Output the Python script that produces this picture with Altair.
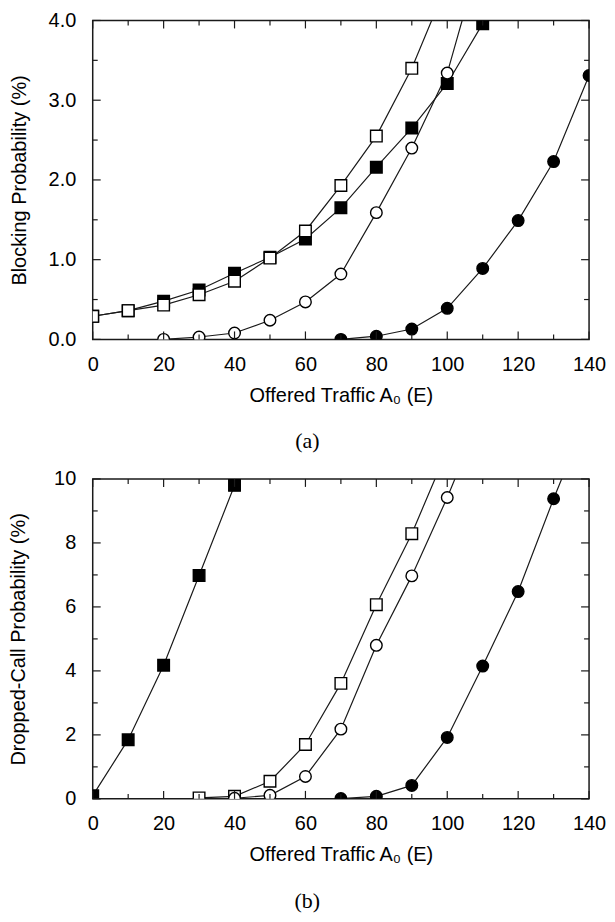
import altair as alt
import pandas as pd

# ---------------- data ----------------
# Panel (a): Blocking probability (%)
a_sq_open_x = [0, 10, 20, 30, 40, 50, 60, 70, 80, 90, 100]
a_sq_open_y = [0.29, 0.36, 0.43, 0.56, 0.73, 1.02, 1.36, 1.93, 2.55, 3.40, 4.47]
a_sq_fill_x = [0, 10, 20, 30, 40, 50, 60, 70, 80, 90, 100, 110]
a_sq_fill_y = [0.29, 0.36, 0.48, 0.62, 0.83, 1.03, 1.26, 1.65, 2.16, 2.65, 3.21, 3.96]
a_ci_open_x = [20, 30, 40, 50, 60, 70, 80, 90, 100, 110]
a_ci_open_y = [0.00, 0.03, 0.08, 0.24, 0.47, 0.82, 1.59, 2.40, 3.34, 4.91]
a_ci_fill_x = [70, 80, 90, 100, 110, 120, 130, 140]
a_ci_fill_y = [0.00, 0.04, 0.13, 0.39, 0.89, 1.49, 2.23, 3.31]

# Panel (b): Dropped-call probability (%)
b_sq_fill_x = [0, 10, 20, 30, 40]
b_sq_fill_y = [0.10, 1.85, 4.18, 6.98, 9.80]
b_sq_open_x = [30, 40, 50, 60, 70, 80, 90, 100]
b_sq_open_y = [0.03, 0.08, 0.55, 1.70, 3.61, 6.07, 8.29, 10.9]
b_ci_open_x = [40, 50, 60, 70, 80, 90, 100, 110]
b_ci_open_y = [0.02, 0.11, 0.70, 2.18, 4.80, 6.97, 9.42, 12.1]
b_ci_fill_x = [70, 80, 90, 100, 110, 120, 130, 140]
b_ci_fill_y = [0.01, 0.08, 0.42, 1.92, 4.15, 6.48, 9.38, 12.1]

series_names = ["sq_fill", "sq_open", "ci_open", "ci_fill"]
series_shapes = ["square", "square", "circle", "circle"]
series_fills = ["black", "white", "white", "black"]
series_sizes = [135, 135, 115, 115]

x_major = [0, 20, 40, 60, 80, 100, 120, 140]
x_minor = [10, 30, 50, 70, 90, 110, 130]
a_y_major = [0.0, 1.0, 2.0, 3.0, 4.0]
a_y_minor = [0.5, 1.5, 2.5, 3.5]
b_y_major = [0, 2, 4, 6, 8, 10]
b_y_minor = [1, 3, 5, 7, 9]

W = 498
INK = "#1a1a1a"
FONT = "Liberation Sans"


def long_df(pairs):
    rows = []
    for name, xs, ys in pairs:
        for i, (xv, yv) in enumerate(zip(xs, ys)):
            rows.append({"x": xv, "y": yv, "series": name, "i": i})
    return pd.DataFrame(rows)


def panel(df, H, ydom, ymaj, ymin, yfmt, ytitle, label, title_pad):
    xs = alt.Scale(domain=[0, 140], nice=False, zero=False)
    ys = alt.Scale(domain=ydom, nice=False, zero=False)
    xaxis = alt.Axis(values=x_major, ticks=False, domain=False, grid=False, labelFlush=False,
                     labelPadding=15, title="Offered Traffic A₀ (E)", titlePadding=11)
    yaxis = alt.Axis(values=ymaj, ticks=False, domain=False, grid=False, format=yfmt,
                     labelFlush=False, labelPadding=17, title=ytitle, titlePadding=title_pad)

    def X():
        return alt.X("x:Q", scale=xs, axis=xaxis)

    def Y():
        return alt.Y("y:Q", scale=ys, axis=yaxis)

    lines = alt.Chart(df).mark_line(clip=True, color=INK, strokeWidth=1.2).encode(
        x=X(), y=Y(), detail="series:N", order="x:Q")
    points = alt.Chart(df).transform_calculate(
        sort="datum.series == 'sq_fill' ? 0 : 1"
    ).mark_point(
        clip=True, filled=True, stroke="black", strokeWidth=1.4, opacity=1).encode(
        x=X(), y=Y(),
        shape=alt.Shape("series:N", scale=alt.Scale(domain=series_names, range=series_shapes), legend=None),
        color=alt.Color("series:N", scale=alt.Scale(domain=series_names, range=series_fills), legend=None),
        size=alt.Size("series:N", scale=alt.Scale(domain=series_names, range=series_sizes), legend=None),
        order=alt.Order("sort:Q"),
    )

    layers = [lines, points]
    for vals, ln in ((x_major, 8), (x_minor, 5)):
        tdf = pd.DataFrame({"x": vals})
        for y0, y1 in ((H, H - ln), (0, ln)):
            layers.append(alt.Chart(tdf).mark_rule(color=INK, strokeWidth=1.2).encode(
                x=X(), y=alt.value(y0), y2=alt.value(y1)))
    for vals, ln in ((ymaj, 8), (ymin, 5)):
        tdf = pd.DataFrame({"y": vals})
        for x0, x1 in ((0, ln), (W, W - ln)):
            layers.append(alt.Chart(tdf).mark_rule(color=INK, strokeWidth=1.2).encode(
                y=Y(), x=alt.value(x0), x2=alt.value(x1)))

    return alt.layer(*layers).properties(
        width=W, height=H,
        title=alt.TitleParams(label, orient="bottom", anchor="middle", frame="bounds", offset=26))


df_a = long_df([
    ("sq_fill", a_sq_fill_x, a_sq_fill_y),
    ("sq_open", a_sq_open_x, a_sq_open_y),
    ("ci_open", a_ci_open_x, a_ci_open_y),
    ("ci_fill", a_ci_fill_x, a_ci_fill_y),
])
df_b = long_df([
    ("sq_fill", b_sq_fill_x, b_sq_fill_y),
    ("sq_open", b_sq_open_x, b_sq_open_y),
    ("ci_open", b_ci_open_x, b_ci_open_y),
    ("ci_fill", b_ci_fill_x, b_ci_fill_y),
])

top = panel(df_a, 320, [0, 4], a_y_major, a_y_minor, ".1f", "Blocking Probability (%)", "(a)", 19)
bottom = panel(df_b, 321, [0, 10], b_y_major, b_y_minor, "d", "Dropped-Call Probability (%)", "(b)", 25)

chart = alt.vconcat(top, bottom, spacing=15).properties(
    padding={"left": 0, "top": 0, "right": 0, "bottom": 0}
).configure_view(stroke=INK, strokeWidth=1.5).configure_axis(
    labelFont=FONT, titleFont=FONT, labelFontSize=20, titleFontSize=20,
    titleFontWeight="normal", labelColor="black", titleColor="black"
).configure_title(font="Liberation Serif", fontSize=22, fontWeight="normal", color="black")

chart.save("out.html", embed_options={"renderer": "svg", "actions": False})
